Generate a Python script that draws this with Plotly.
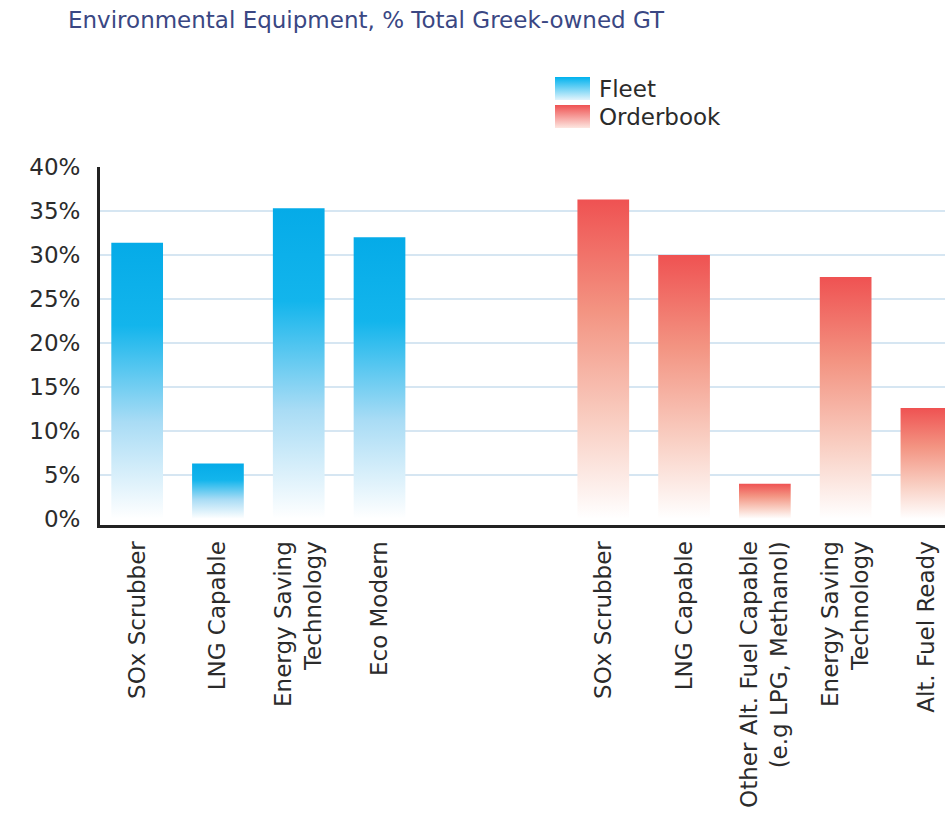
import base64
import plotly.graph_objects as go

# ---- data ----
fleet_labels = ["SOx Scrubber", "LNG Capable", "Energy Saving<br>Technology", "Eco Modern"]
fleet_values = [31.4, 6.3, 35.3, 32.0]
order_labels = ["SOx Scrubber", "LNG Capable", "Other Alt. Fuel Capable<br>(e.g LPG, Methanol)",
                "Energy Saving<br>Technology", "Alt. Fuel Ready"]
order_values = [36.3, 30.0, 4.0, 27.5, 12.6]
y_ticks = [0, 5, 10, 15, 20, 25, 30, 35, 40]
series_names = ["Fleet", "Orderbook"]

# ---- styling / layout ----
W, H = 945, 813
ML, MR, MT, MB = 100, 0, 167, 288
GAP = 5.77          # slot position where the orderbook group starts
BAR_W = 0.64
FONT = "DejaVu Sans"
TXT = "#2b2b2b"
Y_RANGE = [-0.7, 40]
blue_scale = [[0, "#ffffff"], [0.35, "#a9dcf5"], [0.7, "#13b5ec"], [1, "#05abe8"]]
red_scale = [[0, "#ffffff"], [0.3, "#f9cfc3"], [0.65, "#f39482"], [1, "#ef5252"]]
swatch_cols = [("#00b2ee", "#e3f4fc"), ("#ef5252", "#fde6e0")]

fleet_x = [i for i in range(len(fleet_values))]
order_x = [GAP + i for i in range(len(order_values))]

fig = go.Figure()

# empty helper trace so the grid-only overlay axis (no 0% gridline) is drawn
fig.add_trace(go.Scatter(x=[None], y=[None], yaxis="y2", mode="none",
                         showlegend=False, hoverinfo="skip"))


def add_bars(xs, vals, name, scale):
    for cx, v in zip(xs, vals):
        x0, x1 = cx - BAR_W / 2, cx + BAR_W / 2
        fig.add_trace(go.Scatter(
            x=[x0, x1, x1, x0, x0], y=[0, 0, v, v, 0],
            mode="none", fill="toself",
            fillgradient=dict(type="vertical", colorscale=scale, start=0, stop=v),
            name=name, showlegend=False, hoverinfo="skip",
        ))


add_bars(fleet_x, fleet_values, series_names[0], blue_scale)
add_bars(order_x, order_values, series_names[1], red_scale)

# ---- legend (gradient swatches + labels) ----
ph = H - MT - MB
pw = W - ML - MR


def px2paper(px, py):
    return (px - ML) / pw, (H - MB - py) / ph


def grad_svg(top, bottom):
    svg = (f'<svg xmlns="http://www.w3.org/2000/svg" width="35" height="23" '
           f'preserveAspectRatio="none" viewBox="0 0 35 23">'
           f'<defs><linearGradient id="g" x1="0" y1="0" x2="0" y2="1">'
           f'<stop offset="0" stop-color="{top}"/><stop offset="1" stop-color="{bottom}"/>'
           f'</linearGradient></defs><rect width="35" height="23" fill="url(#g)"/></svg>')
    return "data:image/svg+xml;base64," + base64.b64encode(svg.encode()).decode()


images, annots = [], []
for k, (name, (top, bot)) in enumerate(zip(series_names, swatch_cols)):
    sy = 77 + k * 28
    x0, y0 = px2paper(555, sy)
    x1, y1 = px2paper(590, sy + 23)
    images.append(dict(source=grad_svg(top, bot), xref="paper", yref="paper",
                       x=x0, y=y0, sizex=x1 - x0, sizey=y0 - y1,
                       xanchor="left", yanchor="top", sizing="stretch", layer="above"))
    tx, ty = px2paper(597, sy + 11.5)
    annots.append(dict(text=name, xref="paper", yref="paper", x=tx, y=ty,
                       xanchor="left", yanchor="middle", showarrow=False,
                       font=dict(family=FONT, size=23, color=TXT)))

fig.update_layout(
    width=W, height=H,
    margin=dict(l=ML, r=MR, t=MT, b=MB, autoexpand=False),
    paper_bgcolor="white", plot_bgcolor="white",
    font=dict(family=FONT, color=TXT),
    title=dict(text="Environmental Equipment, % Total Greek-owned GT",
               x=68 / W, xref="container", xanchor="left",
               y=1 - 20 / H, yref="container", yanchor="middle",
               font=dict(family=FONT, size=23, color="#3a4783")),
    showlegend=False,
    images=images, annotations=annots,
    yaxis2=dict(overlaying="y", range=Y_RANGE, tickmode="array", tickvals=y_ticks[1:],
                showgrid=True, gridcolor="#d6e6f2", gridwidth=1.5, zeroline=False,
                showticklabels=False, showline=False, ticks="", automargin=False),
)

fig.update_xaxes(
    range=[-0.46, GAP + len(order_values) - 1 + 0.23],
    tickmode="array", tickvals=fleet_x + order_x, ticktext=fleet_labels + order_labels,
    tickangle=-90, tickfont=dict(family=FONT, size=23, color=TXT),
    showgrid=False, zeroline=False, showline=True, linecolor="#222222", linewidth=3,
    ticks="", ticklabelstandoff=4, automargin=False,
)
fig.layout.yaxis.update(
    range=Y_RANGE, tickmode="array", tickvals=y_ticks,
    ticktext=[f"{t}%" for t in y_ticks],
    tickfont=dict(family=FONT, size=23, color=TXT),
    showgrid=False, zeroline=False,
    showline=True, linecolor="#222222", linewidth=3, ticks="", ticklabelstandoff=12,
    automargin=False,
)

fig.write_html(
    "out.html",
    config={"displayModeBar": False},
    post_script="document.body.style.margin='0';document.body.style.overflow='hidden';",
)
